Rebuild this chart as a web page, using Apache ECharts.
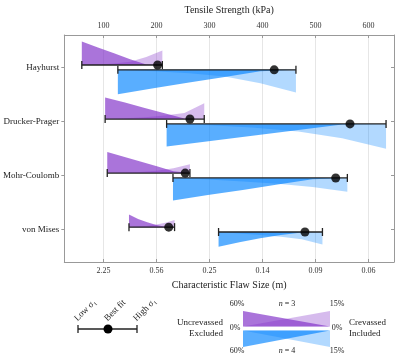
<!DOCTYPE html>
<html>
<head>
<meta charset="utf-8">
<script src="https://cdn.jsdelivr.net/npm/echarts@6/dist/echarts.min.js"></script>
<style>
html, body { margin: 0; padding: 0; background: #fff; }
#chart { width: 396px; height: 355px; }
</style>
</head>
<body>
<div id="chart"></div>
<script>
// failure criteria, top to bottom
var models = ['Hayhurst', 'Drucker-Prager', 'Mohr-Coulomb', 'von Mises'];

// tensile strength (kPa): low sigma1 / best fit / high sigma1
var n3Low = [59, 103, 107, 148];
var n3Best = [202, 263, 254, 223];
var n3High = [211, 290, 263, 234];
var n4Low = [127, 219, 231, 317];
var n4Best = [422, 565, 538, 480];
var n4High = [463, 633, 560, 513];

// area fraction (%), 6 samples from low to high sigma1
var n3Excluded = [
  [52, 39, 26, 13, 1, 0],
  [48, 36.5, 24.6, 12.9, 1, 0],
  [47, 36.5, 25.7, 15, 4, 0],
  [28, 18, 10.6, 4.7, 0.6, 0]
];
var n3Included = [
  [0, 0.3, 0.8, 1.8, 4.5, 8],
  [0, 0.4, 1, 1.9, 3.4, 8.8],
  [0, 0.3, 0.6, 1.3, 2.7, 4.9],
  [0, 0.3, 0.7, 1.4, 2.4, 3.9]
];
var n4Excluded = [
  [54, 41, 28, 16, 3, 0],
  [50, 38, 25.7, 13.6, 1.5, 0],
  [50, 38, 26.5, 14.6, 3, 0],
  [33, 23, 13.8, 6.4, 1, 0]
];
var n4Included = [
  [0, 0.8, 1.9, 3.7, 7.4, 12.5],
  [0, 0.8, 2.1, 4.2, 8, 13.8],
  [0, 0.8, 1.9, 3.2, 5, 7.6],
  [0, 0.8, 1.6, 2.7, 4, 6.9]
];

// ticks
var strengthTicks = [100, 200, 300, 400, 500, 600];
var flawLabels = ['2.25', '0.56', '0.25', '0.14', '0.09', '0.06'];
var rowTicks = [1, 2, 3, 4];

var purpleDark = 'rgba(130,50,200,0.68)';
var purpleLight = 'rgba(130,50,200,0.33)';
var blueDark = 'rgba(0,130,255,0.65)';
var blueLight = 'rgba(0,130,255,0.3)';
var serif = 'Liberation Serif';
var off = 0.045;

// wedge: values in %, fullPct maps to half a row
function wedgeSeries(lows, highs, values, fullPct, offset, dir, color) {
  return {
    type: 'custom',
    silent: true,
    z: 2,
    encode: { x: [0, 1], y: 2 },
    data: models.map(function (m, i) { return [lows[i], highs[i], i + 1 + offset]; }),
    renderItem: function (params, api) {
      var vals = values[params.dataIndex];
      var lo = api.value(0), hi = api.value(1), row = api.value(2);
      var pts = [];
      for (var k = 0; k < vals.length; k++) {
        var x = lo + (hi - lo) * k / (vals.length - 1);
        pts.push(api.coord([x, row + dir * vals[k] / fullPct * 0.5]));
      }
      pts.push(api.coord([hi, row]));
      pts.push(api.coord([lo, row]));
      return { type: 'polygon', shape: { points: pts }, style: { fill: color } };
    }
  };
}

function errorSeries(lows, highs, offset) {
  return {
    type: 'custom',
    silent: true,
    z: 3,
    encode: { x: [0, 1], y: 2 },
    data: models.map(function (m, i) { return [lows[i], highs[i], i + 1 + offset]; }),
    renderItem: function (params, api) {
      var p0 = api.coord([api.value(0), api.value(2)]);
      var p1 = api.coord([api.value(1), api.value(2)]);
      var h = 4;
      var st = { stroke: '#222', lineWidth: 1.3 };
      return {
        type: 'group',
        children: [
          { type: 'line', shape: { x1: p0[0], y1: p0[1], x2: p1[0], y2: p1[1] }, style: st },
          { type: 'line', shape: { x1: p0[0], y1: p0[1] - h, x2: p0[0], y2: p0[1] + h }, style: st },
          { type: 'line', shape: { x1: p1[0], y1: p1[1] - h, x2: p1[0], y2: p1[1] + h }, style: st }
        ]
      };
    }
  };
}

function dotSeries(best, offset) {
  return {
    type: 'scatter',
    silent: true,
    z: 4,
    symbolSize: 9,
    itemStyle: { color: '#000' },
    data: models.map(function (m, i) { return [best[i], i + 1 + offset]; })
  };
}

var lt = { fontFamily: serif, fontSize: 8, fill: '#222' };
function txt(x, y, s, align, extra) {
  var st = Object.assign({}, lt, { text: s, align: align || 'center', verticalAlign: 'middle' }, extra || {});
  return { type: 'text', x: x, y: y, style: st };
}
function rotTxt(x, y, s) {
  return { type: 'text', x: x, y: y, rotation: Math.PI / 4,
    style: Object.assign({}, lt, { text: s, fontSize: 9, align: 'left', verticalAlign: 'bottom' }) };
}

var chart = echarts.init(document.getElementById('chart'));
chart.setOption({
  animation: false,
  grid: { left: 60, right: 2, top: 24, bottom: 93 },
  xAxis: [
    {
      type: 'value', position: 'bottom', min: 26, max: 648,
      name: 'Characteristic Flaw Size (m)', nameLocation: 'middle', nameGap: 18,
      nameTextStyle: { fontFamily: serif, fontSize: 10, color: '#222' },
      axisLine: { lineStyle: { color: '#999' } },
      axisTick: { inside: true, length: 3, customValues: strengthTicks, lineStyle: { color: '#999' } },
      axisLabel: {
        customValues: strengthTicks, margin: 5, fontFamily: serif, fontSize: 8, color: '#333',
        formatter: function (v) { return flawLabels[strengthTicks.indexOf(v)]; }
      },
      splitLine: { show: true, lineStyle: { color: '#e6e6e6' } }
    },
    {
      type: 'value', position: 'top', min: 26, max: 648,
      name: 'Tensile Strength (kPa)', nameLocation: 'middle', nameGap: 20,
      nameTextStyle: { fontFamily: serif, fontSize: 10, color: '#222' },
      axisLine: { lineStyle: { color: '#999' } },
      axisTick: { inside: true, length: 3, customValues: strengthTicks, lineStyle: { color: '#999' } },
      axisLabel: { customValues: strengthTicks, margin: 5, fontFamily: serif, fontSize: 8, color: '#333' },
      splitLine: { show: false }
    }
  ],
  yAxis: [
    {
      type: 'value', position: 'left', min: 0.4, max: 4.6, inverse: true,
      axisLine: { show: true, lineStyle: { color: '#999' } },
      axisTick: { show: true, inside: false, length: 3, customValues: rowTicks, lineStyle: { color: '#999' } },
      axisLabel: {
        customValues: rowTicks, margin: 5, fontFamily: serif, fontSize: 9, color: '#222',
        formatter: function (v) { return models[v - 1]; }
      },
      splitLine: { show: false }
    },
    {
      type: 'value', position: 'right', min: 0.4, max: 4.6, inverse: true,
      axisLine: { show: true, lineStyle: { color: '#999' } },
      axisTick: { show: true, inside: true, length: 3, customValues: rowTicks, lineStyle: { color: '#999' } },
      axisLabel: { show: false },
      splitLine: { show: false }
    }
  ],
  series: [
    wedgeSeries(n3Low, n3High, n3Excluded, 60, -off, -1, purpleDark),
    wedgeSeries(n3Low, n3High, n3Included, 15, -off, -1, purpleLight),
    wedgeSeries(n4Low, n4High, n4Excluded, 60, off, 1, blueDark),
    wedgeSeries(n4Low, n4High, n4Included, 15, off, 1, blueLight),
    errorSeries(n3Low, n3High, -off),
    errorSeries(n4Low, n4High, off),
    dotSeries(n3Best, -off),
    dotSeries(n4Best, off)
  ],
  graphic: [
    // error bar key
    { type: 'line', shape: { x1: 78, y1: 329, x2: 137, y2: 329 }, style: { stroke: '#222', lineWidth: 1.3 } },
    { type: 'line', shape: { x1: 78, y1: 325, x2: 78, y2: 333 }, style: { stroke: '#222', lineWidth: 1.3 } },
    { type: 'line', shape: { x1: 137, y1: 325, x2: 137, y2: 333 }, style: { stroke: '#222', lineWidth: 1.3 } },
    { type: 'circle', shape: { cx: 108, cy: 329, r: 4.5 }, style: { fill: '#000' } },
    rotTxt(79, 323, 'Low σ₁'),
    rotTxt(109, 323, 'Best fit'),
    rotTxt(138, 323, 'High σ₁'),
    // wedge key
    { type: 'polygon', shape: { points: [[243, 311], [243, 326.5], [330, 326.5]] }, style: { fill: purpleDark } },
    { type: 'polygon', shape: { points: [[243, 326.5], [330, 311], [330, 326.5]] }, style: { fill: purpleLight } },
    { type: 'polygon', shape: { points: [[243, 330.5], [243, 347], [330, 330.5]] }, style: { fill: blueDark } },
    { type: 'polygon', shape: { points: [[243, 330.5], [330, 347], [330, 330.5]] }, style: { fill: blueLight } },
    txt(237, 304, '60%'),
    txt(287, 304, '{i|n} = 3', 'center', { rich: { i: { fontFamily: serif, fontSize: 8, fontStyle: 'italic', fill: '#222' } } }),
    txt(337, 304, '15%'),
    txt(235, 328, '0%'),
    txt(337, 328, '0%'),
    txt(237, 351, '60%'),
    txt(287, 351, '{i|n} = 4', 'center', { rich: { i: { fontFamily: serif, fontSize: 8, fontStyle: 'italic', fill: '#222' } } }),
    txt(337, 351, '15%'),
    txt(223, 323, 'Uncrevassed', 'right', { fontSize: 9 }),
    txt(223, 334, 'Excluded', 'right', { fontSize: 9 }),
    txt(349, 323, 'Crevassed', 'left', { fontSize: 9 }),
    txt(349, 334, 'Included', 'left', { fontSize: 9 })
  ]
});
</script>
</body>
</html>
